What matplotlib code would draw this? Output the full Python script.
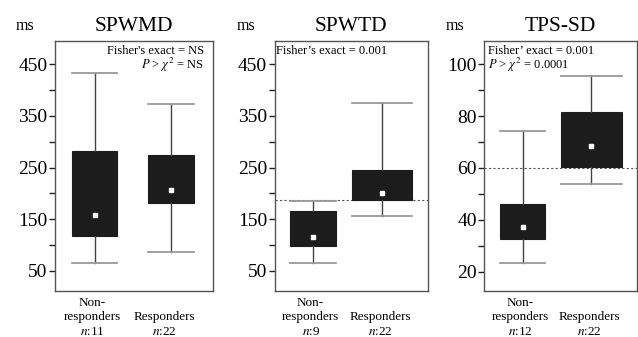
import matplotlib
matplotlib.use("Agg")
import matplotlib.pyplot as plt
from matplotlib.ticker import MultipleLocator

plt.rcParams['font.family'] = ['Liberation Serif', 'DejaVu Serif']
plt.rcParams['mathtext.fontset'] = 'stix'

# values (ms)
titles = ["SPWMD", "SPWTD", "TPS-SD"]
groups = ["Non-\nresponders", "\nResponders"]
n_counts = [[11, 22], [9, 22], [12, 22]]

lows = [[66, 87], [66, 157], [23.5, 53.7]]
q1s = [[117, 181], [98, 188], [32.4, 60.5]]
mids = [[159, 207], [115, 200], [37.2, 68.5]]
q3s = [[282, 274], [166, 246], [46, 81.7]]
highs = [[433, 373], [185, 374], [74.3, 95.4]]

cutoffs = [None, 188, 60]
notes = [["Fisher's exact = NS", r"$P$ > $\chi^2$ = NS"],
         ["Fisher\u2019s exact = 0.001"],
         ["Fisher\u2019 exact = 0.001", r"$P$ > $\chi^2$ = 0.0001"]]

# layout
W, H = 638, 337
rects = [(55, 158), (274.7, 153), (484.3, 153)]
positions = [[1, 1.97], [1, 1.9], [1, 1.9]]
widths = [[0.58, 0.58], [0.59, 0.78], [0.59, 0.80]]
ylims = [(11, 495), (11, 495), (12.5, 109)]
majors = [(100, 50), (100, 50), (20, 20)]
note_x = [(0.943, 'right'), (0.01, 'left'), (0.024, 'left')]

fig = plt.figure(figsize=(W / 100, H / 100), dpi=100)

for i in range(3):
    left, wid = rects[i]
    ax = fig.add_axes([left / W, 1 - 291 / H, wid / W, 250 / H])

    stats = []
    for j in range(2):
        stats.append(dict(whislo=lows[i][j], q1=q1s[i][j], med=mids[i][j],
                          q3=q3s[i][j], whishi=highs[i][j]))
    ax.bxp(stats, positions=positions[i], widths=widths[i], capwidths=widths[i],
           showfliers=False, patch_artist=True,
           boxprops=dict(facecolor='#1c1c1c', edgecolor='#1c1c1c', linewidth=0.8),
           whiskerprops=dict(color='#444444', linewidth=1.0),
           capprops=dict(color='#999999', linewidth=1.3),
           medianprops=dict(linewidth=0))
    ax.plot(positions[i], mids[i], ls='none', marker='s', ms=3.5,
            mfc='white', mec='white', zorder=5)

    if cutoffs[i] is not None:
        ax.axhline(cutoffs[i], color='#555555', lw=0.8, dashes=(2, 2), zorder=1)

    ax.set_xlim(0.5, 2.5)
    ax.set_ylim(*ylims[i])
    step, start = majors[i]
    ax.set_yticks(range(start, int(ylims[i][1]), step))
    ax.yaxis.set_minor_locator(MultipleLocator(step / 2))
    ax.tick_params(axis='y', which='both', direction='out', length=4, width=1,
                   pad=1.5, labelsize=14, color='#222222')
    ax.set_xticks([])
    for s in ax.spines.values():
        s.set_color('#555555')
        s.set_linewidth(1.0)

    ax.set_title(titles[i], fontsize=15.5, pad=7)
    ax.text(-0.19, 1.03, "ms", transform=ax.transAxes, fontsize=11.5,
            ha='center', va='bottom')

    for k, line in enumerate(notes[i]):
        ax.text(note_x[i][0], 0.96 - k * 0.056, line, transform=ax.transAxes,
                ha=note_x[i][1], va='center', fontsize=9)

    for j, gx in enumerate([0.235, 0.69]):
        ax.text(gx, -0.022, groups[j] + "\n$n$:%d" % n_counts[i][j],
                transform=ax.transAxes, ha='center', va='top', fontsize=9.5,
                linespacing=1.3)

fig.savefig("out.png", dpi=100)
